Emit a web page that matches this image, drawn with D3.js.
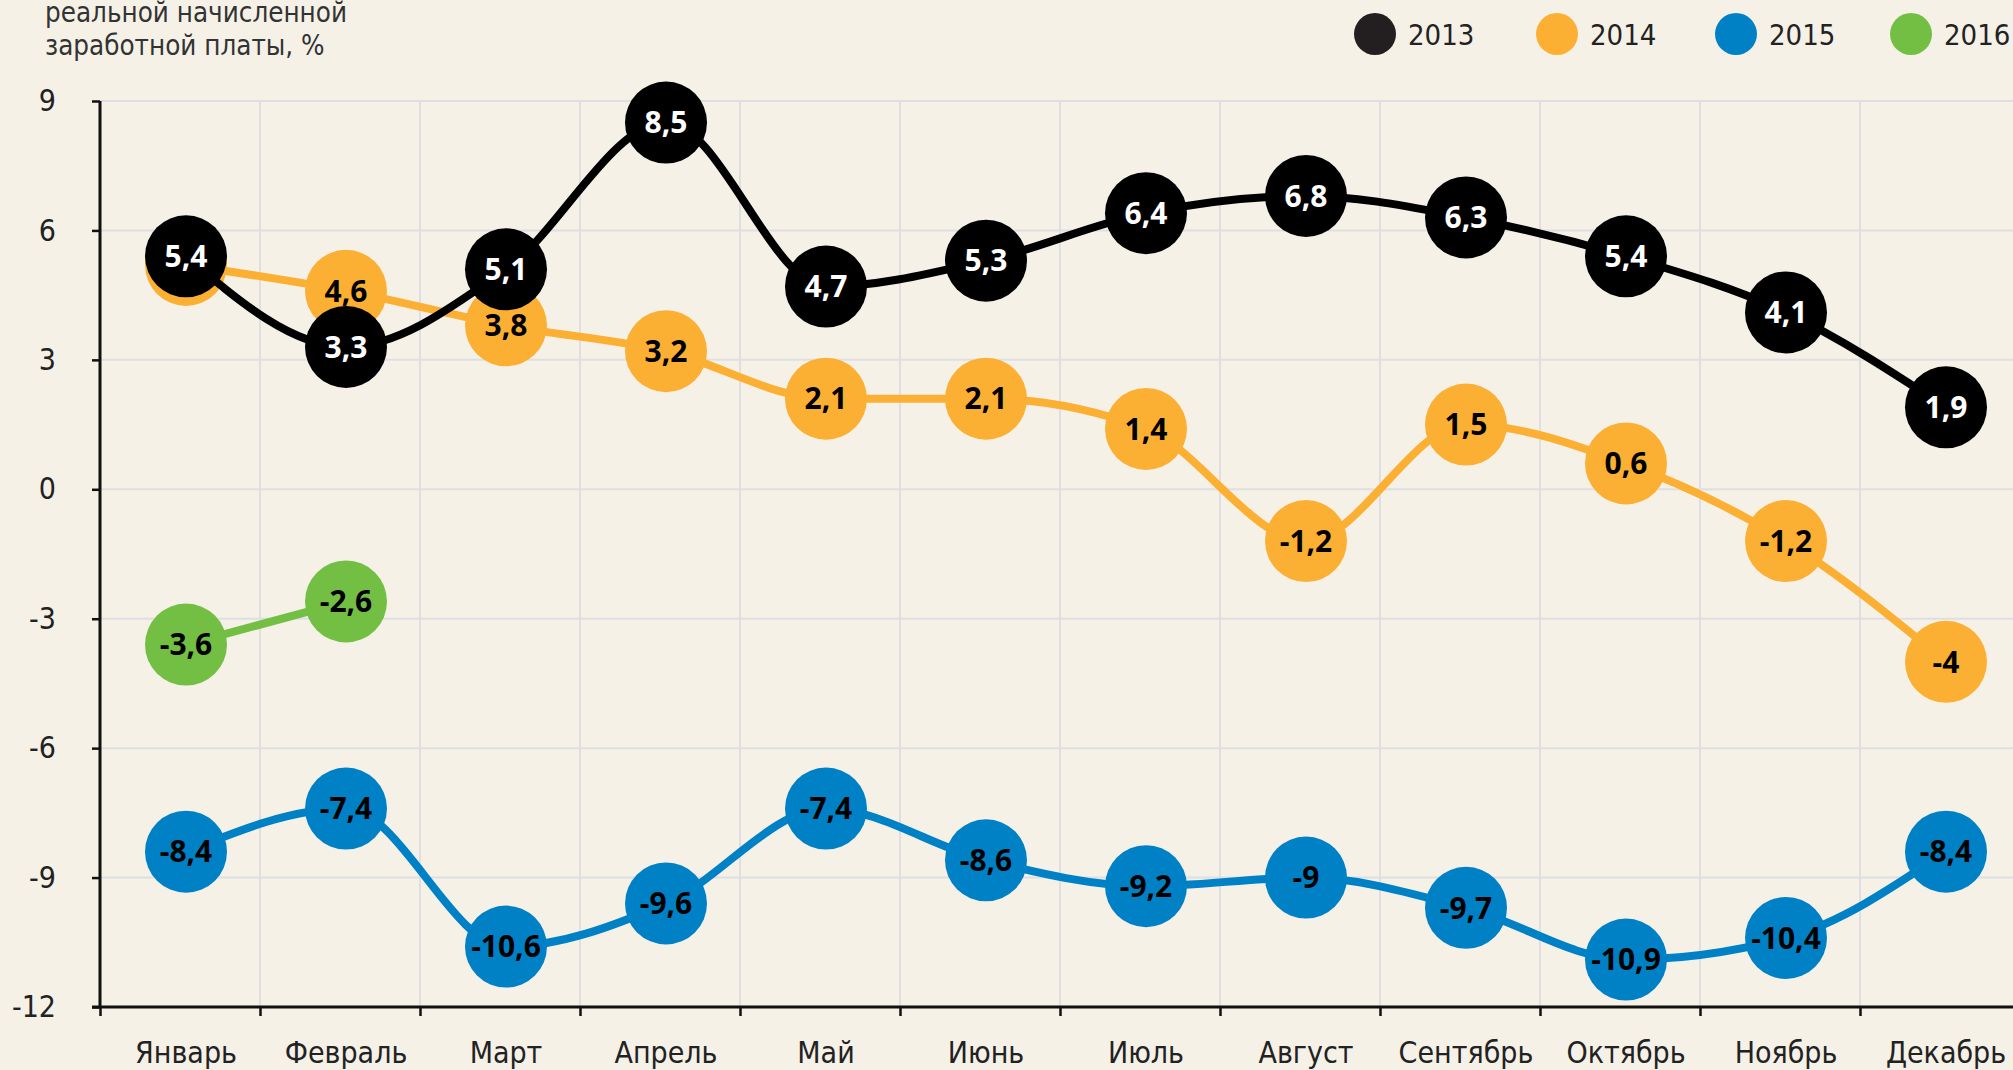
<!DOCTYPE html>
<html><head><meta charset="utf-8">
<script src="https://cdn.jsdelivr.net/npm/d3@7/dist/d3.min.js"></script>
<style>
html,body{margin:0;padding:0;background:#f5f1e7;}
svg{display:block;}
.narrow{font-family:"Liberation Sans Narrow","DejaVu Sans Condensed",sans-serif;}
</style></head>
<body><svg id="c" width="2013" height="1070"></svg>
<script>
const months = ["Январь","Февраль","Март","Апрель","Май","Июнь","Июль","Август","Сентябрь","Октябрь","Ноябрь","Декабрь"];
const yTicks = [9,6,3,0,-3,-6,-9,-12];
const years = ["2013","2014","2015","2016"];
const colors = ["#000000","#fbb034","#0081c6","#72bf44"];
const legendColors = ["#231f20","#fbb034","#0081c6","#72bf44"];
const v2013 = [5.4,3.3,5.1,8.5,4.7,5.3,6.4,6.8,6.3,5.4,4.1,1.9];
const v2014 = [5.2,4.6,3.8,3.2,2.1,2.1,1.4,-1.2,1.5,0.6,-1.2,-4];
const v2015 = [-8.4,-7.4,-10.6,-9.6,-7.4,-8.6,-9.2,-9,-9.7,-10.9,-10.4,-8.4];
const v2016 = [-3.6,-2.6];
const titleLines = ["реальной начисленной","заработной платы, %"];

const svg = d3.select("#c");
const W = 2013, H = 1070;
svg.append("rect").attr("width",W).attr("height",H).attr("fill","#f5f1e7");

const y = d3.scaleLinear().domain([-12,9]).range([1007,101]);
const xb = d3.scaleLinear().domain([0,12]).range([100,2020]);
const x = d3.scalePoint().domain(months).range([xb(0)+86, xb(11)+86]);

// grid
const g = svg.append("g");
g.selectAll("line.h").data(yTicks.filter(d=>d>-12)).join("line")
  .attr("x1",100).attr("x2",W).attr("y1",d=>y(d)).attr("y2",d=>y(d))
  .attr("stroke","#dfdfe3").attr("stroke-width",2);
g.selectAll("line.v").data(d3.range(1,12)).join("line")
  .attr("x1",d=>xb(d)).attr("x2",d=>xb(d)).attr("y1",y(9)).attr("y2",y(-12))
  .attr("stroke","#dfdfe3").attr("stroke-width",2);

// axes
const ya = svg.append("g").attr("transform","translate(100,0)")
  .call(d3.axisLeft(y).tickValues(yTicks).tickSize(8).tickPadding(36).tickFormat(d=>String(d)));
ya.select(".domain").attr("stroke","#111").attr("stroke-width",3).attr("d",`M0,${y(9)}V${y(-12)}`);
ya.selectAll(".tick line").attr("stroke","#111").attr("stroke-width",2.5);
ya.selectAll(".tick text").attr("class","narrow").attr("font-size",30).attr("fill","#222").attr("text-anchor","end");

const xa = svg.append("g").attr("transform",`translate(0,${y(-12)})`)
  .call(d3.axisBottom(xb).tickValues(d3.range(0,13)).tickSize(9).tickFormat(""));
xa.select(".domain").attr("stroke","#111").attr("stroke-width",3).attr("d",`M92,0H${W}`);
xa.selectAll(".tick line").attr("stroke","#111").attr("stroke-width",2.5);

svg.append("g").selectAll("text").data(months).join("text")
  .attr("class","narrow").attr("x",d=>x(d)).attr("y",1063)
  .attr("text-anchor","middle").attr("font-size",30).attr("fill","#222").text(d=>d);

// title
svg.append("g").selectAll("text").data(titleLines).join("text")
  .attr("class","narrow").attr("x",45).attr("y",(d,i)=>22+i*33)
  .attr("font-size",27.5).attr("fill","#333").text(d=>d);

// legend
const leg = svg.append("g");
const lx = [1375,1557,1736,1911];
years.forEach((yr,i)=>{
  leg.append("circle").attr("cx",lx[i]).attr("cy",34).attr("r",21).attr("fill",legendColors[i]);
  leg.append("text").attr("class","narrow").attr("x",lx[i]+33).attr("y",45)
    .attr("font-size",29).attr("fill","#222").text(yr);
});

// series (draw bottom to top)
const seriesData = [v2013,v2014,v2015,v2016];
const order = [2,3,1,0];
const fmt = v => String(v).replace(".",",");
const line = d3.line().x((d,i)=>x(months[i])).y(d=>y(d)).curve(d3.curveMonotoneX);
order.forEach(k=>{
  const vals = seriesData[k];
  const sg = svg.append("g");
  sg.append("path").attr("d",line(vals)).attr("fill","none")
    .attr("stroke",colors[k]).attr("stroke-width",8);
  sg.selectAll("circle").data(vals).join("circle")
    .attr("cx",(d,i)=>x(months[i])).attr("cy",d=>y(d)).attr("r",41).attr("fill",colors[k]);
  sg.selectAll("text").data(vals).join("text")
    .attr("x",(d,i)=>x(months[i])).attr("y",d=>y(d)).attr("dy","0.36em")
    .attr("text-anchor","middle").attr("font-family","'Open Sans','Noto Sans',sans-serif")
    .attr("font-weight","bold").attr("font-size",30)
    .attr("fill",k===0?"#fff":"#000").text(fmt);
});
</script></body></html>
